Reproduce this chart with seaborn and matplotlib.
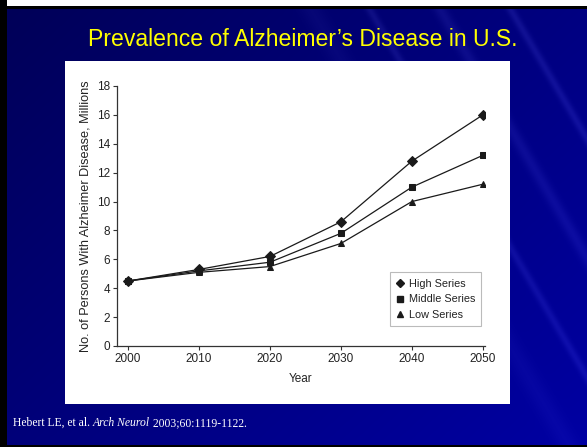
import numpy as np
import pandas as pd
import matplotlib
matplotlib.use("Agg")
import matplotlib.pyplot as plt
from matplotlib.patches import Rectangle
from matplotlib.lines import Line2D
import seaborn as sns

years = [2000, 2010, 2020, 2030, 2040, 2050]
high_series = [4.5, 5.3, 6.2, 8.6, 12.8, 16.0]
middle_series = [4.5, 5.2, 5.8, 7.8, 11.0, 13.2]
low_series = [4.5, 5.1, 5.5, 7.1, 10.0, 11.2]
series_names = ["High Series", "Middle Series", "Low Series"]
y_ticks = [0, 2, 4, 6, 8, 10, 12, 14, 16, 18]

df = pd.DataFrame({
    "Year": years * 3,
    "Value": high_series + middle_series + low_series,
    "Series": sum([[n] * len(years) for n in series_names], []),
})

sns.set_theme(style="white")
plt.rcParams["font.family"] = ["Liberation Sans", "DejaVu Sans"]

W, H = 587, 447
fig = plt.figure(figsize=(W / 100, H / 100), dpi=100)

# slide background: navy gradient with faint diagonal streaks
bg = fig.add_axes([0, 0, 1, 1])
bg.set_axis_off()
yy, xx = np.mgrid[0:H, 0:W]
t = (xx / W * 0.55 + yy / H * 0.45)
blue = 0.34 + 0.30 * t
d = (xx / W) - (yy / H) * 0.45
streak = np.zeros_like(t)
for c, w, a in [(0.62, 0.008, 0.07), (0.74, 0.012, 0.06), (0.86, 0.008, 0.08), (0.52, 0.02, 0.03)]:
    streak += a * np.exp(-((d - c) / w) ** 2)
img = np.zeros((H, W, 3))
img[..., 0] = streak * 0.8
img[..., 1] = streak * 0.8
img[..., 2] = np.clip(blue + streak, 0, 1)
bg.imshow(img, extent=[0, W, H, 0], aspect="auto", interpolation="bilinear")
bg.set_xlim(0, W)
bg.set_ylim(H, 0)
# frame strips
bg.add_patch(Rectangle((0, 0), W, 6, color="white", lw=0))
bg.add_patch(Rectangle((0, 6), W, 3, color="black", lw=0))
bg.add_patch(Rectangle((0, 0), 7, H, color="black", lw=0))
bg.add_patch(Rectangle((0, H - 2), W, 2, color="black", lw=0))
# white chart panel
bg.add_patch(Rectangle((65, 61), 445, 343, color="white", lw=0))

fig.text(303 / W, 1 - 39 / H, "Prevalence of Alzheimer\u2019s Disease in U.S.",
         color="#ffff00", fontsize=16.6, ha="center", va="center")

# citation line: plain, italic journal name, plain
cite_y = 1 - 423 / H
parts = [("Hebert LE, et al. ", "normal"), ("Arch Neurol", "italic"),
         (" 2003;60:1119-1122.", "normal")]
x_px = 13
for s, st in parts:
    tx = fig.text(x_px / W, cite_y, s, color="white", fontsize=8.4, style=st,
                  ha="left", va="center", family=["Liberation Serif"])
    fig.canvas.draw()
    x_px = tx.get_window_extent().x1

# chart
ax = fig.add_axes([117 / W, 1 - 346 / H, (485 - 117) / W, (346 - 86) / H])
ax.set_facecolor("none")
markers = {"High Series": "D", "Middle Series": "s", "Low Series": "^"}
sns.lineplot(data=df, x="Year", y="Value", style="Series", markers=markers,
             dashes=False, color="#1a1a1a", linewidth=0.9, markersize=4.8,
             markeredgecolor="#1a1a1a", ax=ax, legend=False)

ax.set_xlim(1998.45, 2050.3)
ax.set_ylim(0, 18)
ax.set_xticks(years)
ax.set_yticks(y_ticks)
for s in ["top", "right"]:
    ax.spines[s].set_visible(False)
for s in ["left", "bottom"]:
    ax.spines[s].set_color("#333333")
    ax.spines[s].set_linewidth(0.9)
ax.tick_params(axis="both", direction="out", length=3, width=0.8, color="#333333",
               labelsize=8.5, labelcolor="#222222", pad=2, left=True, bottom=True)
ax.set_xlabel("Year", fontsize=8.5, color="#222222", labelpad=6)
ax.set_ylabel("No. of Persons With Alzheimer Disease, Millions", fontsize=9.2,
              color="#222222", labelpad=4)

handles = [Line2D([], [], linestyle="none", marker=markers[n], color="#1a1a1a",
                  markersize=4.5) for n in series_names]
leg = ax.legend(handles, series_names, loc="lower right", bbox_to_anchor=(1.005, 0.055),
                frameon=True, fancybox=False, fontsize=7.8, handlelength=0.7,
                handletextpad=0.4, borderpad=0.6, labelspacing=0.5)
leg.get_frame().set_edgecolor("#aaaaaa")
leg.get_frame().set_linewidth(0.8)
for txt in leg.get_texts():
    txt.set_color("#222222")

fig.savefig("out.png", dpi=100)
